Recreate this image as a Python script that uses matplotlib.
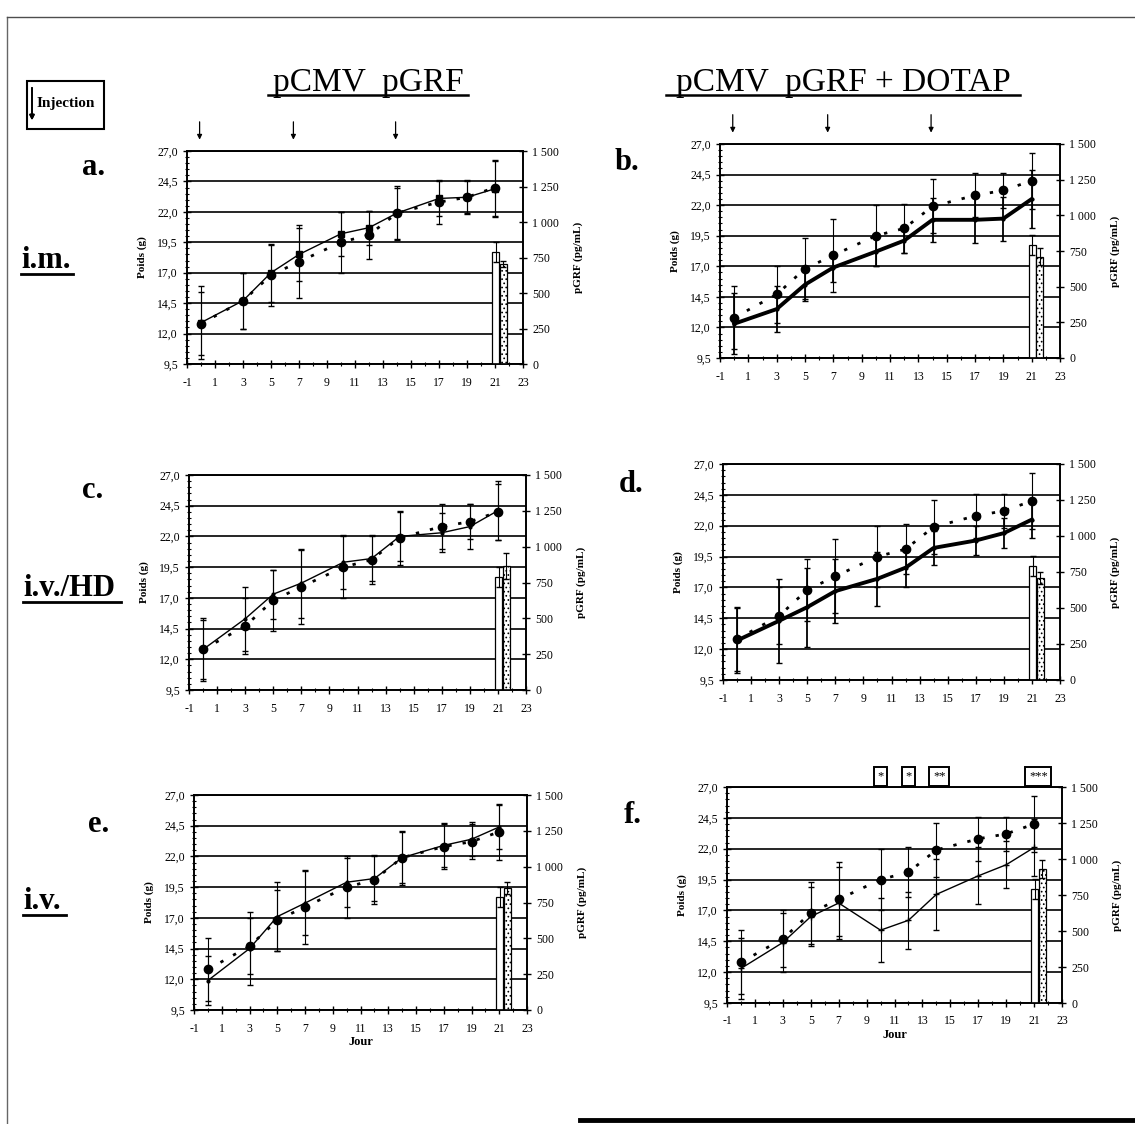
import numpy as np
import matplotlib.pyplot as plt
from matplotlib.lines import Line2D
from matplotlib.patches import Rectangle

plt.rcParams['font.family'] = ['Liberation Serif', 'DejaVu Serif']
plt.rcParams['hatch.linewidth'] = 0.7

W, H = 1135, 1124

# jours de mesure
jours = [0, 3, 5, 7, 10, 12, 14, 17, 19, 21]

# groupe temoin (pointille, gros points) - le meme sur les 6 graphes
temoin = [12.8, 14.7, 16.8, 17.9, 19.5, 20.1, 21.9, 22.8, 23.2, 24.0]
temoin_err = [2.6, 2.3, 2.5, 3.0, 2.5, 2.0, 2.2, 1.8, 1.4, 2.3]

# groupes traites (trait plein)
poids_a = [12.9, 14.7, 17.0, 18.5, 20.2, 20.7, 21.9, 23.1, 23.2, 23.9]
err_a = [3.0, 2.3, 2.4, 2.2, 1.8, 1.4, 2.1, 1.4, 1.3, 2.3]
poids_b = [12.3, 13.5, 15.5, 16.9, 18.2, 19.1, 20.8, 20.8, 20.9, 22.5]
err_b = [2.5, 1.9, 1.3, 1.2, 1.2, 1.0, 1.8, 1.9, 1.8, 2.4]
poids_c = [12.8, 15.3, 17.3, 18.2, 19.9, 20.2, 22.0, 22.3, 22.8, 24.1]
err_c = [2.4, 2.6, 2.0, 2.8, 2.2, 1.8, 2.0, 1.6, 1.8, 2.4]
poids_d = [12.7, 14.3, 15.4, 16.7, 17.7, 18.6, 20.2, 20.8, 21.4, 22.5]
err_d = [2.6, 3.4, 3.2, 2.6, 2.2, 1.6, 1.4, 1.2, 1.2, 1.5]
poids_e = [11.9, 14.5, 17.1, 18.2, 19.9, 20.2, 21.9, 22.9, 23.4, 24.4]
err_e = [2.0, 3.0, 2.8, 2.6, 2.0, 1.8, 2.1, 1.8, 1.4, 1.8]
poids_f = [12.3, 14.4, 16.5, 17.6, 15.4, 16.2, 18.3, 19.8, 20.7, 22.1]
err_f = [2.5, 2.4, 2.4, 2.9, 2.6, 2.3, 2.9, 2.3, 1.9, 2.3]

# pGRF plasmatique a J21 (pg/mL)
pgrf_temoin = 790
pgrf_temoin_err = 70
pgrf_traite = [703, 710, 865, 708, 851, 930]
pgrf_traite_err = [20, 60, 90, 40, 40, 60]

injections = [-0.1, 6.6, 13.9]
sig_jours = [10, 12, 14.2, 21.3]
sig_txt = ['*', '*', '**', '***']

xticks = list(range(-1, 24, 2))
yticks = [9.5, 12.0, 14.5, 17.0, 19.5, 22.0, 24.5, 27.0]
rticks = [0, 250, 500, 750, 1000, 1250, 1500]
rlabels = ['0', '250', '500', '750', '1 000', '1 250', '1 500']

panneaux = [
    # lettre, poids, err, epais, marqueur, boite (gauche, droite, haut, bas) en px
    ('a.', poids_a, err_a, False, 's', (187, 523, 151, 364)),
    ('b.', poids_b, err_b, True, '.', (720, 1060, 144, 358)),
    ('c.', poids_c, err_c, False, '.', (189, 526, 475, 690)),
    ('d.', poids_d, err_d, True, '.', (723, 1060, 464, 680)),
    ('e.', poids_e, err_e, False, '.', (194, 527, 795, 1010)),
    ('f.', poids_f, err_f, False, '+', (727, 1062, 787, 1003)),
]
lettre_pos = [(82, 175), (615, 170), (82, 498), (619, 492), (88, 832), (624, 823)]

fig = plt.figure(figsize=(W / 100, H / 100), dpi=100)


def fx(x):
    return x / W


def fy(y):
    return 1 - y / H


def souligne(x0, x1, y, lw=1.8):
    fig.add_artist(Line2D([fx(x0), fx(x1)], [fy(y), fy(y)], color='black', lw=lw))


for i, (lettre, poids, err, epais, mk, (l, r, t, b)) in enumerate(panneaux):
    ax = fig.add_axes([fx(l), fy(b), (r - l) / W, (b - t) / H])
    ax.set_xlim(-1, 23)
    ax.set_ylim(9.5, 27)
    ax.set_xticks(xticks)
    ax.set_xticks(range(-1, 24), minor=True)
    ax.set_yticks(yticks)
    ax.set_yticks(np.arange(9.5, 27.01, 0.5), minor=True)
    ax.set_yticklabels([f'{v:.1f}'.replace('.', ',') for v in yticks], fontsize=8.5)
    ax.set_xticklabels([str(v) for v in xticks], fontsize=8.5)
    ax.tick_params(axis='both', which='major', direction='inout', length=6, width=1)
    ax.tick_params(axis='both', which='minor', direction='inout', length=2.5, width=0.8)
    ax.tick_params(axis='x', pad=6)
    ax.yaxis.grid(True, color='black', lw=1.2)
    for s in ax.spines.values():
        s.set_linewidth(1.2)

    # temoin pointille
    ax.errorbar(jours, temoin, yerr=temoin_err, fmt='none', ecolor='black',
                elinewidth=0.8, capsize=2, zorder=3)
    ax.plot(jours, temoin, color='black', lw=2, ls=(0, (1.2, 4)), zorder=3)
    ax.plot(jours, temoin, 'o', color='black', ms=6, zorder=4)

    # traite trait plein
    ax.errorbar(jours, poids, yerr=err, fmt='none', ecolor='black',
                elinewidth=1.3 if epais else 0.8, capsize=2, zorder=3)
    ax.plot(jours, poids, color='black', lw=2.8 if epais else 1.0, marker=mk,
            ms=5 if mk == 's' else 4, zorder=4)

    ax.set_ylabel('Poids (g)', fontsize=8, fontweight='bold')
    ax.yaxis.set_label_coords(-40 / (r - l), 0.5)

    ax2 = ax.twinx()
    ax2.set_ylim(0, 1500)
    ax2.set_yticks(rticks)
    ax2.set_yticklabels(rlabels, fontsize=8.5)
    ax2.tick_params(axis='y', direction='inout', length=6, width=1)
    ax2.bar(21.05, pgrf_temoin, width=0.5, color='white', edgecolor='black', lw=0.9,
            yerr=pgrf_temoin_err, error_kw=dict(elinewidth=0.8, capsize=2))
    ax2.bar(21.58, pgrf_traite[i], width=0.5, color='white', edgecolor='black', lw=0.9,
            hatch='....', yerr=pgrf_traite_err[i], error_kw=dict(elinewidth=0.8, capsize=2))
    ax2.set_ylabel('pGRF (pg/mL)', fontsize=8, fontweight='bold')
    ax2.yaxis.set_label_coords(1 + 50 / (r - l), 0.5)
    for s in ax2.spines.values():
        s.set_linewidth(1.2)

    lx, ly = lettre_pos[i]
    fig.text(fx(lx), fy(ly), lettre, fontsize=22, fontweight='bold', va='baseline')

    if i < 2:
        for j in injections:
            ax.annotate('', xy=(j, 1.04), xytext=(j, 1.15), xycoords=('data', 'axes fraction'),
                        arrowprops=dict(arrowstyle='-|>', color='black', lw=0.9,
                                        mutation_scale=7), annotation_clip=False)
    if i >= 4:
        ax.set_xlabel('Jour', fontsize=9, fontweight='bold', labelpad=1)
    if lettre == 'f.':
        for j, s in zip(sig_jours, sig_txt):
            ax.text(j, 27.35, s, ha='center', va='bottom', fontsize=9,
                    bbox=dict(boxstyle='square,pad=0.3', fc='white', ec='black', lw=1.4))

# titres
fig.text(fx(368), fy(91), 'pCMV  pGRF', fontsize=24, ha='center', va='baseline')
souligne(268, 468, 95)
fig.text(fx(843), fy(91), 'pCMV  pGRF + DOTAP', fontsize=24, ha='center', va='baseline')
souligne(666, 1020, 95)

# voies d'administration
for txt, x0, x1, y in [('i.m.', 21, 73, 268), ('i.v./HD', 23, 121, 596), ('i.v.', 23, 66, 909)]:
    fig.text(fx(x0), fy(y), txt, fontsize=22, fontweight='bold', va='baseline')
    souligne(x0, x1, y + 6, lw=2)

# legende injection
fig.add_artist(Rectangle((fx(27), fy(129)), 77 / W, 48 / H, fill=False, ec='black', lw=1.5,
                         transform=fig.transFigure))
fig.text(fx(37), fy(104), 'Injection', fontsize=11, fontweight='bold', va='center')
fig.add_artist(plt.annotate('', xy=(fx(32), fy(123)), xytext=(fx(32), fy(85)),
                            xycoords='figure fraction',
                            arrowprops=dict(arrowstyle='-|>', color='black', lw=1.2,
                                            mutation_scale=7)))

# cadre de la page
fig.add_artist(Line2D([fx(7), fx(7)], [fy(17), 0], color='0.4', lw=1))
fig.add_artist(Line2D([fx(7), 1], [fy(17), fy(17)], color='0.3', lw=1))
fig.add_artist(Line2D([fx(580), 1], [fy(1120), fy(1120)], color='black', lw=3.5))

fig.savefig('out.png', dpi=100)
